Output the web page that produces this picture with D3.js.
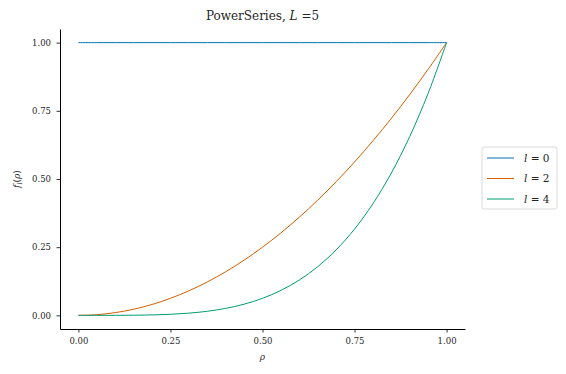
<!DOCTYPE html>
<html>
<head>
<meta charset="utf-8">
<script src="https://cdn.jsdelivr.net/npm/d3@7"></script>
<style>
  body { margin: 0; background: #fff; }
  svg text { font-family: "DejaVu Serif", serif; fill: #262626; }
</style>
</head>
<body>
<svg id="chart" width="566" height="374"></svg>
<script>
// rho sample points and values
var rho = [0, 0.05, 0.1, 0.15, 0.2, 0.25, 0.3, 0.35, 0.4, 0.45, 0.5,
           0.55, 0.6, 0.65, 0.7, 0.75, 0.8, 0.85, 0.9, 0.95, 1.0];
var fL0 = [1, 1, 1, 1, 1, 1, 1, 1, 1, 1, 1, 1, 1, 1, 1, 1, 1, 1, 1, 1, 1];
var fL2 = [0, 0.0025, 0.01, 0.0225, 0.04, 0.0625, 0.09, 0.1225, 0.16, 0.2025, 0.25,
           0.3025, 0.36, 0.4225, 0.49, 0.5625, 0.64, 0.7225, 0.81, 0.9025, 1.0];
var fL4 = [0, 0.00001, 0.0001, 0.0005, 0.0016, 0.0039, 0.0081, 0.015, 0.0256, 0.041, 0.0625,
           0.0915, 0.1296, 0.1785, 0.2401, 0.3164, 0.4096, 0.522, 0.6561, 0.8145, 1.0];
var degrees = ["0", "2", "4"];
var colors = ["#0072b2", "#d55e00", "#009e73"];
var xTicks = [0, 0.25, 0.5, 0.75, 1.0];
var yTicks = [0, 0.25, 0.5, 0.75, 1.0];

var series = [fL0, fL2, fL4];

var svg = d3.select("svg#chart"),
    margin = {top: 29, right: 101, bottom: 45, left: 60},
    width = +svg.attr("width") - margin.left - margin.right,
    height = +svg.attr("height") - margin.top - margin.bottom,
    g = svg.append("g").attr("transform", "translate(" + margin.left + "," + margin.top + ")");

var x = d3.scaleLinear()
    .domain([-0.05, 1.05])
    .range([0, width]);

var y = d3.scaleLinear()
    .domain([-0.05, 1.05])
    .range([height, 0]);

var line = d3.line()
    .x(function(d) { return x(d[0]); })
    .y(function(d) { return y(d[1]); })
    .curve(d3.curveCatmullRom);

series.forEach(function(vals, i) {
    g.append("path")
        .datum(rho.map(function(r, j) { return [r, vals[j]]; }))
        .attr("fill", "none")
        .attr("stroke", colors[i])
        .attr("stroke-width", 1)
        .attr("d", line);
});

var xAxis = g.append("g")
    .attr("transform", "translate(0," + height + ")")
    .call(d3.axisBottom(x).tickValues(xTicks).tickFormat(d3.format(".2f")).tickSize(3.5).tickSizeOuter(0));

var yAxis = g.append("g")
    .call(d3.axisLeft(y).tickValues(yTicks).tickFormat(d3.format(".2f")).tickSize(3.5).tickSizeOuter(0));

[xAxis, yAxis].forEach(function(a) {
    a.select(".domain").attr("stroke", "#000").attr("stroke-width", 1);
    a.selectAll(".tick line").attr("stroke", "#000").attr("stroke-width", 0.8);
    a.selectAll(".tick text").attr("font-family", "DejaVu Serif, serif").attr("font-size", 8.5).attr("fill", "#262626");
});
xAxis.selectAll(".tick text").attr("dy", "0.71em").attr("y", 9);
yAxis.selectAll(".tick text").attr("x", -9);

// title
var title = svg.append("text")
    .attr("x", margin.left + width / 2)
    .attr("y", 20)
    .attr("text-anchor", "middle")
    .attr("font-size", 12);
title.append("tspan").text("PowerSeries, ");
title.append("tspan").attr("font-style", "italic").text("L");
title.append("tspan").text(" =5");

// x label
svg.append("text")
    .attr("x", margin.left + x(0.5))
    .attr("y", 360)
    .attr("text-anchor", "middle")
    .attr("font-size", 9)
    .attr("font-style", "italic")
    .text("\u03c1");

// y label
var ylab = svg.append("text")
    .attr("transform", "translate(20," + (margin.top + y(0.5)) + ") rotate(-90)")
    .attr("text-anchor", "middle")
    .attr("font-size", 9);
ylab.append("tspan").attr("font-style", "italic").text("f");
ylab.append("tspan").attr("font-style", "italic").attr("font-size", 6.5).attr("dy", 2).text("l");
ylab.append("tspan").attr("dy", -2).text("(");
ylab.append("tspan").attr("font-style", "italic").text("\u03c1");
ylab.append("tspan").text(")");

// legend
var legend = svg.append("g").attr("transform", "translate(482,147)");
legend.append("rect")
    .attr("width", 75)
    .attr("height", 62)
    .attr("rx", 2)
    .attr("fill", "#fff")
    .attr("stroke", "#d0d0d0")
    .attr("stroke-width", 0.8);

degrees.forEach(function(l, i) {
    var row = legend.append("g").attr("transform", "translate(0," + (11 + i * 20.5) + ")");
    row.append("line")
        .attr("x1", 5).attr("x2", 32)
        .attr("stroke", colors[i])
        .attr("stroke-width", 1);
    var t = row.append("text")
        .attr("x", 42)
        .attr("dy", "0.35em")
        .attr("font-size", 10.5);
    t.append("tspan").attr("font-style", "italic").text("l");
    t.append("tspan").text(" = " + l);
});
</script>
</body>
</html>
